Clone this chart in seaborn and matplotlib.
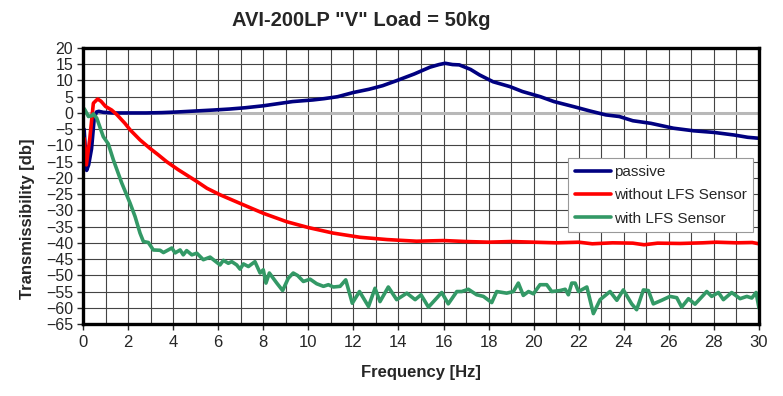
import matplotlib

matplotlib.use("Agg")

import matplotlib.pyplot as plt
import numpy as np
import pandas as pd
import seaborn as sns


# passive isolator
passive_hz = [0.05, 0.16, 0.25, 0.38, 0.5, 0.6, 0.7, 0.9, 1.3, 2.0, 2.8, 3.5, 4.2,
              5.0, 5.8, 6.5, 7.2, 8.0, 8.7, 9.3, 10.2, 10.7, 11.3, 12.0, 12.7, 13.3,
              13.9, 14.7, 15.4, 15.8, 16.07, 16.4, 16.7, 17.2, 17.6, 18.2, 18.95,
              19.5, 20.3, 20.9, 21.8, 22.5, 23.2, 23.8, 24.4, 25.2, 26.2, 27.1, 28.0,
              28.9, 29.5, 30.0]
passive_db = [-5.0, -17.7, -16.0, -11.0, -1.5, 0.3, 0.5, 0.2, 0.0, 0.0, 0.0, 0.1, 0.3,
              0.6, 0.9, 1.2, 1.6, 2.2, 2.9, 3.5, 4.0, 4.4, 5.0, 6.3, 7.3, 8.4,
              9.9, 12.0, 14.1, 14.9, 15.3, 14.9, 14.8, 13.4, 11.7, 9.6, 8.1,
              6.6, 5.0, 3.5, 1.9, 0.6, -0.6, -1.1, -2.4, -3.2, -4.7, -5.5, -6.0,
              -6.8, -7.5, -7.8]

# active, without LFS sensor
no_lfs_hz = [0.05, 0.15, 0.3, 0.46, 0.65, 0.8, 1.0, 1.27, 1.5, 1.86, 2.09, 2.53, 2.97,
             3.34, 3.71, 4.23, 5.05, 5.5, 6.08, 7.12, 8.0, 9.04, 10.0, 11.1, 12.3,
             13.5, 14.8, 16.0, 17.0, 18.0, 19.0, 20.0, 21.0, 22.0, 22.6, 23.5, 24.4,
             24.9, 25.5, 26.5, 27.5, 28.1, 29.0, 29.7, 30.0]
no_lfs_db = [-7.8, -16.0, -8.0, 3.0, 4.3, 3.6, 2.0, 0.9, -0.5, -3.2, -5.2, -8.3, -10.9,
             -12.9, -15.0, -17.5, -21.1, -23.2, -25.2, -28.3, -30.9, -33.5, -35.3, -37.0, -38.3,
             -39.0, -39.5, -39.3, -39.6, -39.8, -39.6, -39.8, -40.0, -39.8, -40.3, -40.0, -40.1,
             -40.6, -40.1, -40.2, -40.0, -39.8, -40.0, -39.9, -40.3]

# active, with LFS sensor
lfs_hz = [0.04, 0.09, 0.24, 0.38, 0.46, 0.61, 0.9, 1.12, 1.35, 1.72, 2.09, 2.31, 2.53,
          2.68, 2.9, 3.12, 3.42, 3.57, 3.94, 4.09, 4.31, 4.45, 4.6, 4.83, 5.05, 5.34,
          5.64, 6.08, 6.23, 6.45, 6.6, 6.82, 6.97, 7.12, 7.34, 7.63, 7.86, 8.0, 8.12,
          8.27, 8.6, 8.86, 9.11, 9.33, 9.53, 9.78, 10.08, 10.37, 10.67, 10.89, 11.11,
          11.41, 11.66, 11.95, 12.27, 12.67, 12.96, 13.18, 13.55, 13.92, 14.37, 14.74,
          15.0, 15.33, 15.7, 15.92, 16.21, 16.59, 16.81, 17.1, 17.47, 17.77, 18.14,
          18.36, 18.8, 19.1, 19.32, 19.54, 19.77, 19.99, 20.28, 20.58, 20.8, 21.17,
          21.4, 21.54, 21.69, 21.84, 21.99, 22.36, 22.65, 22.95, 23.39, 23.69, 23.98,
          24.35, 24.57, 24.87, 25.09, 25.31, 25.68, 26.05, 26.35, 26.57, 26.87, 27.16,
          27.68, 27.9, 28.2, 28.42, 28.79, 29.16, 29.46, 29.68, 29.87, 30.0]
lfs_db = [1.4, 0.9, -1.1, -0.9, -0.3, -1.6, -7.3, -9.5, -14.5, -21.6, -27.8, -31.9, -37.0,
          -39.6, -39.9, -42.2, -42.3, -43.0, -41.6, -43.1, -42.2, -43.7, -42.4, -43.7, -43.2, -45.2,
          -44.4, -46.8, -45.4, -46.3, -45.8, -46.8, -48.1, -46.5, -47.3, -45.8, -49.3, -48.3, -52.4,
          -49.3, -52.4, -54.7, -50.9, -49.3, -50.1, -51.9, -51.2, -52.6, -53.4, -52.9, -53.6,
          -53.4, -51.4, -58.6, -55.0, -59.6, -54.0, -58.1, -53.6, -57.5, -55.5, -57.5,
          -56.0, -59.8, -57.0, -55.3, -58.8, -55.0, -55.0, -54.3, -56.0, -56.5, -58.4,
          -55.0, -55.5, -55.0, -52.4, -56.2, -55.0, -55.7, -52.9, -52.9, -55.0, -54.7,
          -54.3, -56.0, -52.4, -52.4, -55.0, -53.6, -61.8, -57.5, -55.0, -57.7, -54.5,
          -58.8, -60.6, -54.5, -54.7, -58.8, -57.7, -56.5, -56.9, -59.8, -57.2, -58.9,
          -55.0, -56.5, -55.3, -57.5, -55.3, -57.2, -56.5, -57.0, -55.3, -60.1]

series_names = ["passive", "without LFS Sensor", "with LFS Sensor"]
series_colors = ["#000080", "#FF0000", "#339966"]

x_ticks = np.arange(0, 31, 2)
y_ticks = np.arange(-65, 21, 5)


def build_frame():
    parts = []
    for name, hz, db in zip(series_names,
                            [passive_hz, no_lfs_hz, lfs_hz],
                            [passive_db, no_lfs_db, lfs_db]):
        parts.append(pd.DataFrame({"Frequency": hz, "Transmissibility": db, "Series": name}))
    return pd.concat(parts, ignore_index=True)


def main():
    sns.set_style("white")
    plt.rcParams["font.family"] = ["Liberation Sans", "DejaVu Sans"]

    df = build_frame()

    fig = plt.figure(figsize=(7.83, 3.96), dpi=100)
    ax = fig.add_axes([83 / 783, 1 - 324 / 396, 676 / 783, 276 / 396])

    # grid: every 1 Hz and every 5 dB, zero line in light grey
    for v in np.arange(1, 30, 1):
        ax.axvline(v, color="#444444", lw=0.8, zorder=0)
    for v in y_ticks[1:-1]:
        if v == 0:
            continue
        ax.axhline(v, color="#444444", lw=0.8, zorder=0)
    ax.axhline(0, color="#b8b8b8", lw=2.2, zorder=0.5)

    sns.lineplot(
        data=df,
        x="Frequency",
        y="Transmissibility",
        hue="Series",
        hue_order=series_names,
        palette=dict(zip(series_names, series_colors)),
        estimator=None,
        sort=False,
        lw=2.6,
        ax=ax,
    )

    ax.set_xlim(0, 30)
    ax.set_ylim(-65, 20)
    ax.set_xticks(x_ticks)
    ax.set_yticks(y_ticks)
    ax.tick_params(axis="x", labelsize=12, length=4, width=1, direction="out", pad=4)
    ax.tick_params(axis="y", labelsize=11.5, length=4, width=1, direction="out", pad=3)
    ax.tick_params(bottom=True, left=True)
    for spine in ax.spines.values():
        spine.set_color("black")
        spine.set_linewidth(2.4)
    ax.set_xlabel("")
    ax.set_ylabel("")

    leg = ax.legend(
        loc="upper left",
        bbox_to_anchor=(0.706, 0.628),
        fontsize=11,
        frameon=True,
        fancybox=False,
        framealpha=1,
        edgecolor="#999999",
        handlelength=2.4,
        handletextpad=0.15,
        labelspacing=0.6,
        borderpad=0.45,
    )
    leg.get_frame().set_linewidth(0.8)
    for line in leg.get_lines():
        line.set_linewidth(2.6)

    fig.text(361 / 783, 1 - 20 / 396, 'AVI-200LP "V" Load = 50kg',
             ha="center", va="center", fontsize=14.5, fontweight="bold")
    fig.text(421 / 783, 1 - 372 / 396, "Frequency [Hz]",
             ha="center", va="center", fontsize=12, fontweight="bold")
    fig.text(28 / 783, 1 - 219 / 396, "Transmissibility [db]",
             ha="center", va="center", rotation=90, fontsize=12, fontweight="bold")

    fig.savefig("out.png", dpi=100)
    plt.close(fig)


if __name__ == "__main__":
    main()
